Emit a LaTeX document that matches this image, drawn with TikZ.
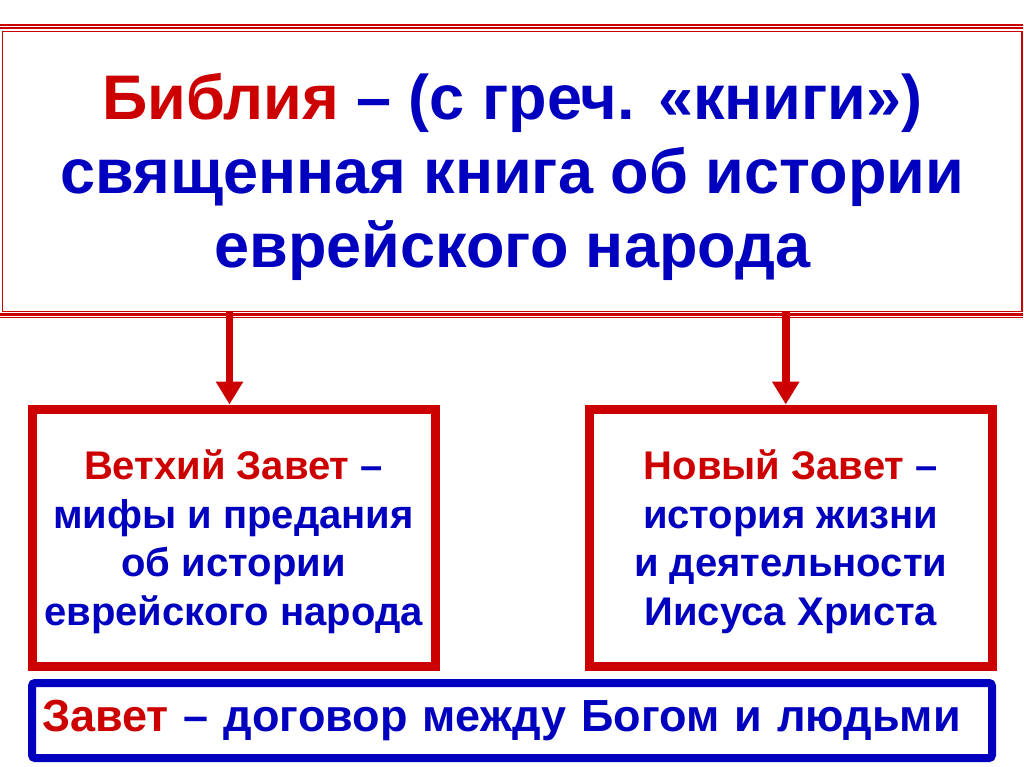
\documentclass[tikz,border=0pt]{standalone}
\usepackage{fontspec}
\setmainfont{Liberation Sans}
\usetikzlibrary{arrows.meta}
\definecolor{bibred}{RGB}{204,0,0}
\definecolor{bibblue}{RGB}{0,0,190}
\tikzset{
	topbox/.style={draw=bibred, line width=1.5pt, minimum width=1019.5pt, minimum height=280pt, inner sep=0pt, align=center, text=bibblue, text depth=3pt, font=\fontsize{63}{74}\selectfont\bfseries},
	testbox/.style={draw=bibred, line width=9pt, minimum width=403pt, minimum height=257pt, inner sep=0pt, align=center, text=bibblue, text depth=-3.5pt, font=\fontsize{40}{48.5}\selectfont\bfseries},
	defbox/.style={draw=bibblue, line width=8pt, rounded corners=3pt, text width=940pt, inner xsep=10pt, minimum height=75pt, align=left, text=bibblue, font=\fontsize{45}{52}\selectfont\bfseries},
	downarrow/.style={draw=bibred, line width=7.5pt, -{Triangle[width=26pt,length=23pt]}},
	frameline/.style={draw=bibred, line width=#1}
}

\begin{document}
\begin{tikzpicture}[x=1pt, y=-1pt]
		%%%%% START %%%%%
		\useasboundingbox (0, 0) rectangle (1024, 767);
		
		\draw[frameline=1.5pt] (0, 25) -- (1023, 25);
		\draw[frameline=2.5pt] (0, 28) -- (1023, 28);
		\node[topbox] (bible) at (512.25, 171.7) {\textcolor{bibred}{Библия} – (с греч. «книги»)\\ священная книга об истории\\ еврейского народа};
		\draw[frameline=2.5pt] (0, 314.5) -- (1023, 314.5);
		\draw[frameline=1.5pt] (0, 317.7) -- (1023, 317.7);
		
		\node[testbox] (old) at (233.5, 537.5) {\textcolor{bibred}{Ветхий Завет} –\\ мифы и предания\\ об истории\\ еврейского народа};
		\node[testbox] (new) at (790.75, 537.5) {\textcolor{bibred}{Новый Завет} –\\ история жизни\\ и деятельности\\ Иисуса Христа};
		
		\draw[downarrow] ([xshift=-4pt]old.north |- bible.south) -- ([xshift=-4pt]old.north);
		\draw[downarrow] ([xshift=-5pt]new.north |- bible.south) -- ([xshift=-5pt]new.north);
		
		\node[defbox] (pact) at (512, 720.5) {\textcolor{bibred}{Завет} – договор между Богом и людьми};
		
		%%%%% END %%%%%
	\end{tikzpicture}
\end{document}
